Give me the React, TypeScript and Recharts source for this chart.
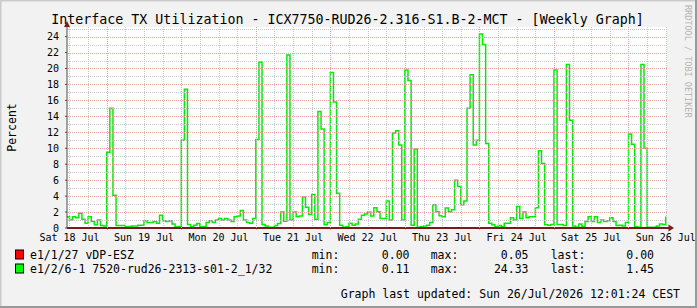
import React from 'react';
import { LineChart, Line, XAxis, YAxis } from 'recharts';

// hourly TX % of e1/2/6-1 (first hour of each array = dayStart)
const sat18 = [1.42, 1.0, 1.4, 1.3, 1.85, 1.1, 0.6, 1.4, 0.8, 0.4, 1.0, 0.3, 0.25];
const sun19 = [9.5, 15.0, 4.1, 0.3, 0.3, 0.3, 0.15, 0.2, 0.25, 0.25, 0.35, 0.35, 0.9, 0.7, 0.7, 0.8, 0.6, 1.6, 0.9, 0.8, 0.9, 0.5, 0.15, 0.2];
const mon20 = [11.0, 17.4, 0.45, 0.15, 0.35, 0.55, 0.15, 0.2, 0.7, 0.9, 0.7, 1.0, 1.2, 1.0, 1.2, 1.0, 0.8, 1.4, 1.5, 2.2, 1.0, 0.7, 0.6, 1.2];
const tue21 = [11.1, 20.8, 0.45, 0.25, 0.1, 0.1, 0.3, 0.55, 2.0, 0.85, 21.7, 1.0, 2.0, 1.4, 1.5, 3.9, 2.6, 1.7, 4.2, 1.1, 14.6, 12.4, 0.4, 0.7];
const wed22 = [19.5, 15.8, 4.35, 0.35, 0.1, 0.15, 0.6, 0.35, 0.5, 1.1, 1.6, 1.75, 2.0, 1.5, 2.55, 2.05, 1.2, 1.2, 3.4, 1.0, 11.9, 12.2, 10.4, 1.0];
const thu23 = [19.8, 18.5, 0.35, 9.9, 0.1, 0.15, 0.25, 0.35, 0.7, 2.9, 2.05, 1.55, 1.4, 2.5, 2.05, 2.3, 6.0, 5.2, 2.9, 3.4, 15.0, 19.2, 10.4, 11.0];
const fri24 = [24.33, 23.0, 10.6, 0.6, 0.4, 0.15, 0.3, 0.2, 0.6, 0.6, 1.3, 1.0, 2.7, 1.2, 2.0, 1.3, 1.4, 1.4, 2.55, 9.7, 8.1, 0.4, 0.35, 0.45];
const sat25 = [19.8, 0.45, 0.45, 0.3, 20.5, 13.5, 0.25, 0.1, 0.5, 0.2, 0.8, 1.4, 0.8, 1.4, 0.7, 1.0, 0.8, 0.9, 1.3, 0.8, 0.3, 0.35, 0.25, 0.7];
const sun26 = [11.8, 10.5, 0.15, 0.1, 20.5, 10.0, 0.1, 0.1, 0.1, 0.25, 0.5, 0.45, 1.45];

const dayValues = [sat18, sun19, mon20, tue21, wed22, thu23, fri24, sat25, sun26];
const dayStart = [11, 24, 48, 72, 96, 120, 144, 168, 192];

// e1/1/27 stays at ~0 all week
const redHours = [11, 130, 131, 204];
const redValues = [0, 0.05, 0, 0];

const dayLabels = ['Sat 18 Jul', 'Sun 19 Jul', 'Mon 20 Jul', 'Tue 21 Jul', 'Wed 22 Jul', 'Thu 23 Jul', 'Fri 24 Jul', 'Sat 25 Jul', 'Sun 26 Jul'];
const labelHours = [12, 36, 60, 84, 108, 132, 156, 180, 204];
const midnightHours = [24, 48, 72, 96, 120, 144, 168, 192];
const sixHourHours = [12, 18, 30, 36, 42, 54, 60, 66, 78, 84, 90, 102, 108, 114, 126, 132, 138, 150, 156, 162, 174, 180, 186, 198, 204];
const yTicks = [0, 2, 4, 6, 8, 10, 12, 14, 16, 18, 20, 22, 24];
const yMinor = [1, 3, 5, 7, 9, 11, 13, 15, 17, 19, 21, 23, 25];
const yMajor = [2, 4, 6, 8, 10, 12, 14, 16, 18, 20, 22, 24];

const legendNames = ['e1/1/27 vDP-ESZ', 'e1/2/6-1 7520-rud26-2313-s01-2_1/32'];
const legendColors = ['#ff0000', '#00ff00'];
const statMin = ['0.00', '0.11'];
const statMax = ['0.05', '24.33'];
const statLast = ['0.00', '1.45'];

const W = 697;
const H = 308;
const PLOT = { left: 67, right: 667, top: 27, bottom: 228 };
const Y_AXIS_W = 30;
const X_AXIS_H = 20;
const X_DOMAIN: [number, number] = [11.2, 204.4];
const Y_DOMAIN: [number, number] = [0, 25.2];
const FONT = '"DejaVu Sans Mono", monospace';
const MINOR_GRID = '#c2c2c2';
const MAJOR_GRID = '#e09a9a';

const MARGIN = {
  top: PLOT.top,
  right: W - PLOT.right,
  bottom: H - PLOT.bottom - X_AXIS_H,
  left: PLOT.left - Y_AXIS_W,
};

// same linear mapping as the chart axes, snapped to pixel centres for the dotted grid
const gx = (h: number) =>
  Math.round(PLOT.left + ((h - X_DOMAIN[0]) / (X_DOMAIN[1] - X_DOMAIN[0])) * (PLOT.right - PLOT.left)) + 0.5;
const gy = (v: number) =>
  Math.round(PLOT.bottom - ((v - Y_DOMAIN[0]) / (Y_DOMAIN[1] - Y_DOMAIN[0])) * (PLOT.bottom - PLOT.top)) + 0.5;

const rows: { h: number; tx?: number; red?: number }[] = [];
dayValues.forEach((vals, d) => {
  vals.forEach((v, i) => rows.push({ h: dayStart[d] + i, tx: v }));
});
redHours.forEach((h, i) => {
  const row = rows.find(r => r.h === h);
  if (row) row.red = redValues[i];
});

export default function App() {
  const tickStyle = { fontSize: 10, fill: '#000', fontFamily: FONT };
  const legendY = [258.5, 272.5];

  return (
    <div
      style={{
        position: 'absolute',
        left: 0,
        top: 0,
        width: W,
        height: H,
        background: '#f2f2f2',
        fontFamily: FONT,
      }}
    >
      {/* white canvas behind the plot */}
      <div
        style={{
          position: 'absolute',
          left: PLOT.left,
          top: PLOT.top,
          width: PLOT.right - PLOT.left,
          height: PLOT.bottom - PLOT.top,
          background: '#ffffff',
        }}
      />
      <LineChart width={W} height={H} data={rows} margin={MARGIN} style={{ position: 'absolute', left: 0, top: 0 }}>
        <XAxis
          type="number"
          dataKey="h"
          domain={X_DOMAIN}
          allowDataOverflow
          ticks={labelHours}
          interval={0}
          tickFormatter={(v: number) => dayLabels[labelHours.indexOf(v)]}
          tickLine={false}
          tickSize={0}
          tickMargin={6}
          height={X_AXIS_H}
          axisLine={{ stroke: '#7a1c1c', strokeWidth: 2 }}
          tick={tickStyle}
        />
        <YAxis
          type="number"
          domain={Y_DOMAIN}
          allowDataOverflow
          ticks={yTicks}
          interval={0}
          width={Y_AXIS_W}
          tickSize={2}
          tickMargin={6}
          axisLine={{ stroke: '#4a4a4a' }}
          tickLine={{ stroke: '#4a4a4a' }}
          tick={tickStyle}
        />
        <Line
          type="stepAfter"
          dataKey="red"
          stroke="#ff0000"
          strokeWidth={1}
          dot={false}
          connectNulls
          isAnimationActive={false}
        />
        <Line
          type="stepAfter"
          dataKey="tx"
          stroke="#00ee00"
          strokeWidth={1.5}
          dot={false}
          isAnimationActive={false}
        />
      </LineChart>

      <svg
        width={W}
        height={H}
        style={{ position: 'absolute', left: 0, top: 0, pointerEvents: 'none' }}
        fontFamily={FONT}
      >
        {/* dotted grid */}
        <g strokeDasharray="1 1" strokeWidth={1} opacity={0.9}>
          {yMinor.map(v => (
            <line key={`ym${v}`} x1={PLOT.left + 1} x2={PLOT.right} y1={gy(v)} y2={gy(v)} stroke={MINOR_GRID} />
          ))}
          {sixHourHours.map(h => (
            <line key={`xm${h}`} x1={gx(h)} x2={gx(h)} y1={PLOT.top} y2={PLOT.bottom - 1} stroke={MINOR_GRID} />
          ))}
          {yMajor.map(v => (
            <line key={`yM${v}`} x1={PLOT.left + 1} x2={PLOT.right} y1={gy(v)} y2={gy(v)} stroke={MAJOR_GRID} />
          ))}
          {midnightHours.map(h => (
            <line key={`xM${h}`} x1={gx(h)} x2={gx(h)} y1={PLOT.top} y2={PLOT.bottom + 2} stroke={MAJOR_GRID} />
          ))}
        </g>

        {/* 3d frame */}
        <line x1={0} y1={0.5} x2={W} y2={0.5} stroke="#cbcbcb" strokeWidth={2} />
        <line x1={0.5} y1={0} x2={0.5} y2={H} stroke="#cbcbcb" strokeWidth={2} />
        <line x1={W - 1} y1={0} x2={W - 1} y2={H} stroke="#999999" strokeWidth={2} />
        <line x1={0} y1={H - 1} x2={W} y2={H - 1} stroke="#999999" strokeWidth={2} />

        <text x={347.5} y={23.5} fontSize={13.3} textAnchor="middle" fill="#000">
          Interface TX Utilization - ICX7750-RUD26-2.316-S1.B-2-MCT - [Weekly Graph]
        </text>

        <text transform="translate(15.5,127.5) rotate(-90)" fontSize={11.5} textAnchor="middle" fill="#000">
          Percent
        </text>

        <text transform="translate(684.5,5) rotate(90)" fontSize={8.5} fill="#b4b4b4">
          RRDTOOL / TOBI OETIKER
        </text>

        {/* axis arrows */}
        <polygon points={`${PLOT.left},21 ${PLOT.left - 3},${PLOT.top} ${PLOT.left + 3},${PLOT.top}`} fill="#7a1c1c" />
        <line x1={PLOT.right} y1={PLOT.bottom} x2={PLOT.right + 2} y2={PLOT.bottom} stroke="#7a1c1c" strokeWidth={2} />
        <polygon
          points={`${PLOT.right + 1.5},${PLOT.bottom - 3.5} ${PLOT.right + 1.5},${PLOT.bottom + 3.5} ${PLOT.right + 7},${PLOT.bottom}`}
          fill="#7a1c1c"
        />

        {legendNames.map((name, i) => (
          <g key={name} fontSize={11.5} fill="#000">
            <rect x={15.5} y={legendY[i] - 8.5} width={8} height={9} fill={legendColors[i]} stroke="#000" strokeWidth={1} />
            <text x={30} y={legendY[i]}>{name}</text>
            <text x={311.7} y={legendY[i]}>min:</text>
            <text x={409.5} y={legendY[i]} textAnchor="end">{statMin[i]}</text>
            <text x={430.7} y={legendY[i]}>max:</text>
            <text x={528.5} y={legendY[i]} textAnchor="end">{statMax[i]}</text>
            <text x={550.7} y={legendY[i]}>last:</text>
            <text x={654} y={legendY[i]} textAnchor="end">{statLast[i]}</text>
          </g>
        ))}

        <text x={680} y={297.5} fontSize={11.5} textAnchor="end" fill="#000">
          Graph last updated: Sun 26/Jul/2026 12:01:24 CEST
        </text>
      </svg>
    </div>
  );
}
